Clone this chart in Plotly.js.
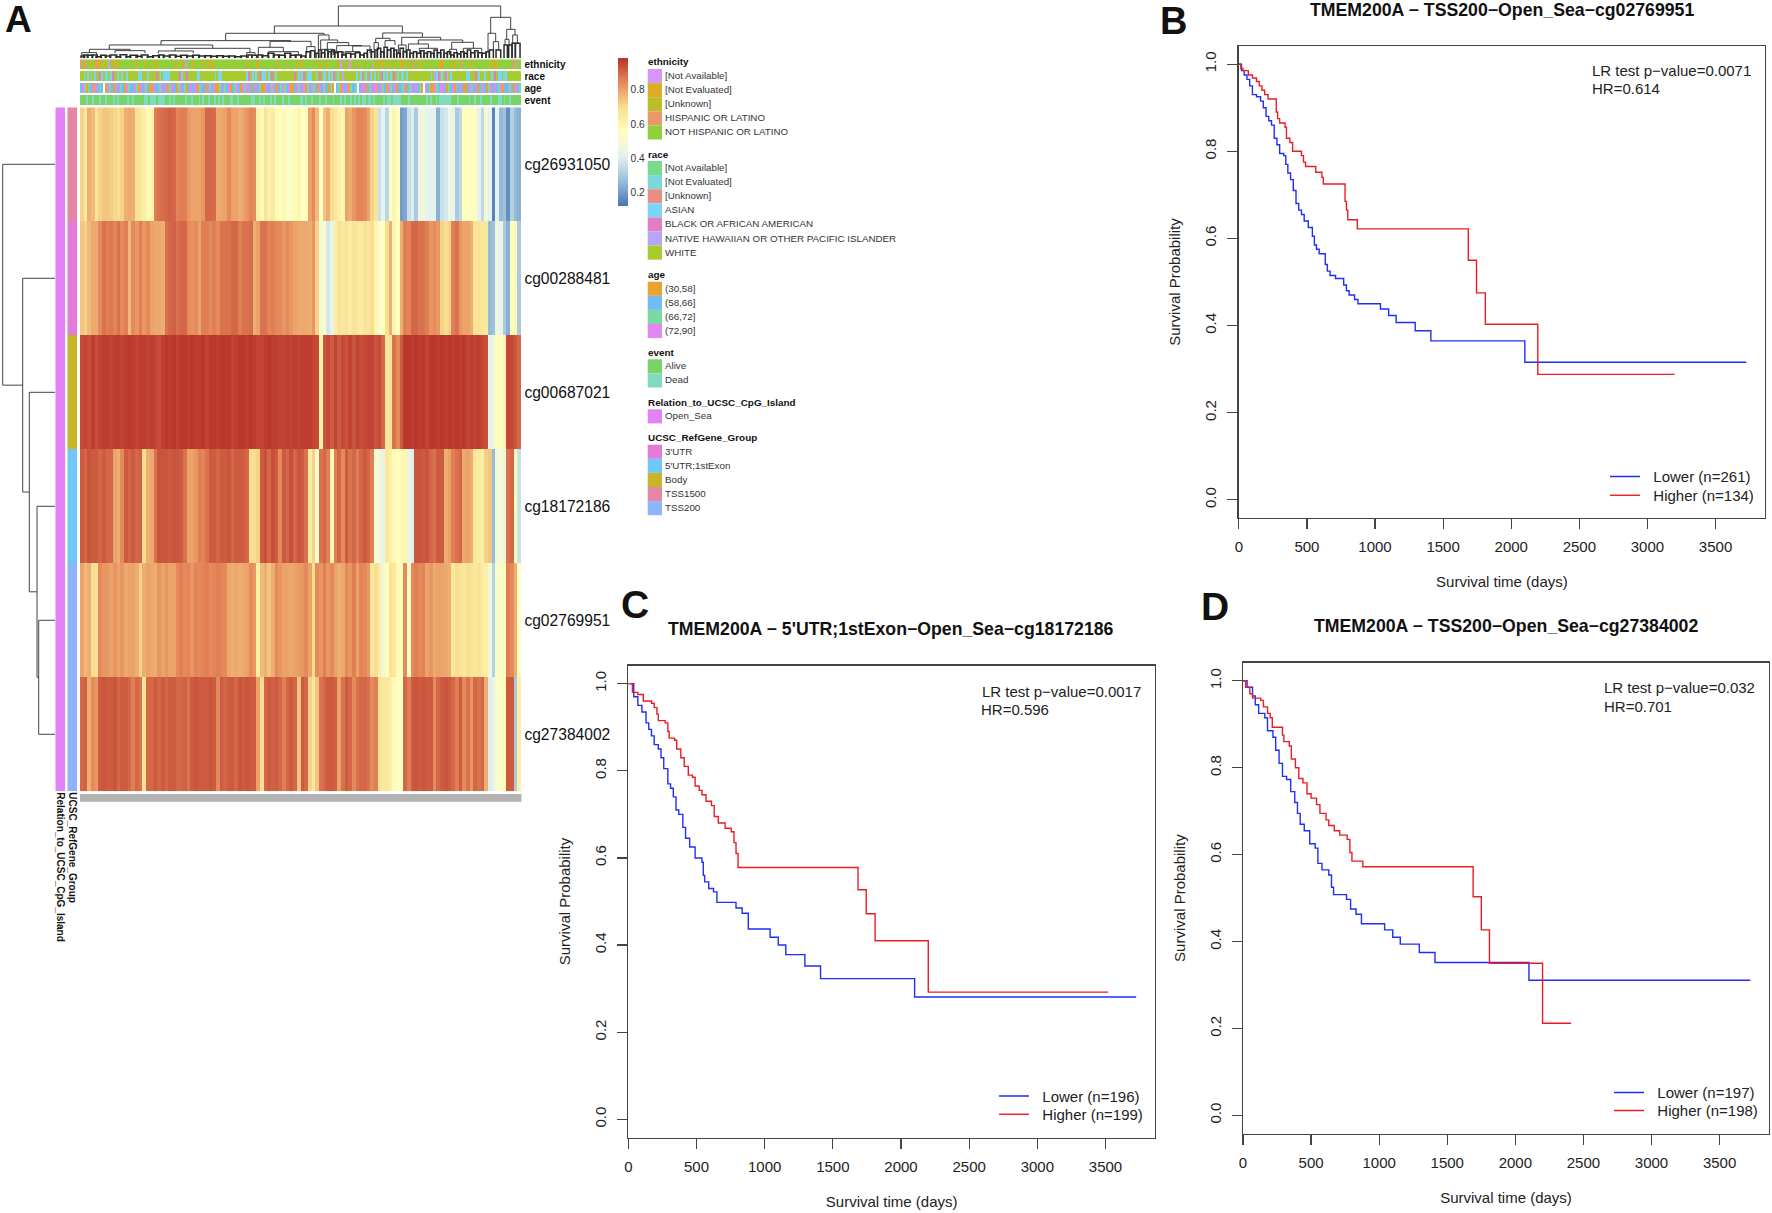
<!DOCTYPE html>
<html><head><meta charset="utf-8">
<script src="https://cdn.plot.ly/plotly-3.0.1.min.js"></script>
<style>html,body{margin:0;padding:0;background:#fff}</style></head>
<body><div id="chart" style="width:1772px;height:1213px"></div>
<script>
const rowNames=["cg26931050","cg00288481","cg00687021","cg18172186","cg02769951","cg27384002"];
// methylation beta x 100, one list per probe, read left to right across the heatmap
const cg26931050=[72,66,78,76,68,72,74,74,73,71,70,72,78,79,78,69,66,63,58,60,86,88,89,90,91,90,85,86,86,82,80,80,80,82,90,90,89,79,79,80,84,80,80,78,80,82,85,84,62,58,68,62,64,58,56,58,56,52,58,60,
55,56,80,84,76,54,74,78,70,66,62,60,80,78,82,85,85,84,80,72,68,36,42,33,52,60,56,20,22,36,40,30,46,48,42,41,42,24,36,38,46,44,30,34,56,56,54,56,42,34,48,42,15,42,26,28,17,32,26,24];
const cg00288481=[74,72,76,79,79,84,88,86,87,85,88,84,86,76,84,82,86,82,84,80,79,79,78,88,90,91,88,90,90,84,83,84,80,86,86,84,86,84,88,88,88,90,90,86,88,88,89,78,80,88,88,85,86,84,84,82,84,82,80,79,
79,79,78,82,72,50,52,38,44,62,68,66,68,64,68,66,64,68,66,70,60,52,56,70,78,60,56,78,86,85,90,90,88,88,86,82,84,82,72,70,72,86,88,82,80,80,78,68,68,66,66,26,28,46,44,30,24,56,58,30];
const cg00687021=[95,96,94,97,94,96,97,97,96,97,97,96,97,98,97,96,97,97,96,97,96,94,97,98,97,98,96,98,98,97,98,97,97,98,96,98,98,97,98,98,98,96,97,98,98,97,98,97,96,96,97,98,97,97,96,96,97,96,97,96,
97,97,97,96,95,62,93,95,92,96,92,95,93,96,93,96,94,95,96,96,93,95,90,66,68,88,84,92,98,98,97,98,97,98,96,98,98,97,98,97,98,97,98,97,98,96,97,96,97,95,94,42,48,56,56,60,95,95,93,90];
const cg18172186=[92,90,93,92,92,90,92,90,90,80,78,84,92,90,92,90,91,70,78,79,88,93,93,93,92,93,93,92,88,80,80,82,86,85,88,92,92,90,92,92,93,90,92,92,92,90,70,70,72,92,94,90,94,92,84,92,90,94,90,93,
92,88,64,72,50,88,90,86,60,86,90,84,92,88,90,86,90,92,90,86,50,48,44,66,62,58,56,58,60,44,40,93,93,92,93,90,88,92,92,78,80,86,88,90,79,80,78,66,64,62,72,74,26,48,50,46,88,90,56,36];
const cg02769951=[80,76,78,70,68,84,82,82,80,82,80,82,79,80,80,78,72,78,80,79,78,82,80,82,80,80,84,86,84,85,82,85,84,85,86,84,85,86,85,84,79,78,79,78,79,80,84,82,62,76,78,74,78,84,82,80,80,79,80,81,
82,84,80,70,84,82,86,82,84,80,78,79,84,82,86,80,85,84,82,66,70,64,48,56,68,66,58,56,84,54,84,86,84,85,80,82,79,80,80,79,78,66,70,68,66,70,68,66,68,64,62,48,32,52,56,54,86,84,78,54];
const cg27384002=[90,91,78,84,82,92,93,92,92,93,90,92,92,90,86,90,88,68,90,90,92,90,92,90,92,92,90,90,91,88,92,93,92,92,92,93,92,84,92,90,92,92,90,93,92,93,92,92,80,70,90,92,91,92,90,86,90,92,90,74,
92,90,72,66,74,88,90,92,92,91,80,88,92,90,84,88,90,90,88,84,86,68,66,66,62,58,54,56,90,86,92,93,92,93,92,92,84,90,92,93,92,90,86,92,84,88,82,90,88,90,78,40,44,52,54,56,92,92,30,62];

// sample annotation tracks, one letter per sample
const ethnicityTrack="HNEHNNENEHEENUENPNNEENENNNNNNNNNENNNNENNNNEENNNNNNNNNNENNNENPNNNENNNNENNEENENNNNNNNNNNNNENNNNNNENNNNEENNNNNNNNNNENNNNENNNNNENNENNNNNN"+
"ENNENNNENNNNNNEPNUNUPUNNENNNNENNNPNUENNENNENNNENNEENNENNHNENNENNNNENNNNUEENNNNENENNNHNNNNENNNNNNNNNNUNEEUNNNNNNNNHNPNN";
const raceTrack="WWAWAWVWAWWBAWVAWABWWAWVWWAWWWWWWAAWWWAWWWWBWAWAAVAWWWWWBAWWBWWWWWAAWWWWWWWWAWVAWWWWWWWWWWWWWWABWAWAWBWAAWAWBWAWWWWWWWWWWBWAWABWAAAWWAWBWA"+
"AWAWABWVWWIWWWWWWWAWABWAWBAWAWVWBAWAWAWBWAWVAWAWWWWWWWWWWWWWAWIABWAWBAWAWWWWWWWWAAWWWBWAWWAWWWAWBWAAWVAWWWWWWWW";
const ageTrack="SLGOGSLOLSGS.OLGSOLSLGSOLGSSLGOLSLGSOOLSSGLSLOGSLSOGLSGOSLSLLOGSSOLGSLOOGSLGSLOSGLSOLGLLSOSLSGOOLSLGLSOSGLGSLOOSLGSLLOGSLGSOLSGLSOG"+
"O.SGOLSLOGSSG.SLLOSGLLLOSLGSOLGSLOSSGLOSGLSLSGO.LSGOOLGSLLSOGSLOGSLSOOSLGSLOSGLSOGLSLSGLOSSLGSOLSG";
const eventTrack="AAADAADAAADAADAAADADAAAADAADAAAAADDADDDADDDDAADADAAAAADAADAAADADAADAADADADAAADDAADAAAAAADDAADADAAADADAAADAADAAAAADDADAADAAADAADA"+
"AADAAADADAADADADADDADDADAAAADADDADDDDAAAADAAAAAAAADADAADADDDDDDAAADAAAAADAADAADAAAADAAADDADAADAAAAA";
const relationRows=["Open_Sea","Open_Sea","Open_Sea","Open_Sea","Open_Sea","Open_Sea"];
const refGeneRows=["TSS1500","3'UTR","Body","5'UTR;1stExon","TSS200","TSS200"];

const ethnicityLevels=["[Not Available]","[Not Evaluated]","[Unknown]","HISPANIC OR LATINO","NOT HISPANIC OR LATINO"];
const ethnicityColors=["#D596F6","#DBAD24","#BBBE2B","#E89968","#8ED13A"];
const ethnicityCodes="PEUHN";
const raceLevels=["[Not Available]","[Not Evaluated]","[Unknown]","ASIAN","BLACK OR AFRICAN AMERICAN","NATIVE HAWAIIAN OR OTHER PACIFIC ISLANDER","WHITE"];
const raceColors=["#79D98C","#7CD9DB","#E88F84","#7AD5F9","#E17FC2","#B5A6F7","#A8CB2E"];
const raceCodes="TVKABIW";
const ageLevels=["(30,58]","(58,66]","(66,72]","(72,90]"];
const ageColors=["#EAA231","#6FBCF7","#7DD9A2","#E188F2"];
const ageCodes="OSGL";
const eventLevels=["Alive","Dead"];
const eventColors=["#78D466","#80DBC0"];
const eventCodes="AD";
const relationLevels=["Open_Sea"];
const relationColors=["#E382F5"];
const refGeneLevels=["3'UTR","5'UTR;1stExon","Body","TSS1500","TSS200"];
const refGeneColors=["#E37BD8","#71C8F8","#C9B528","#E486A6","#8FB4F9"];
const heatStops=["#4A74B0","#97BDDA","#E3F1F1","#FFFFBF","#F8DF90","#E58A5A","#B8332A"];
const colorbarTicks=[0.2,0.4,0.6,0.8];

// row dendrogram: leaf row joined at each merge, merge height (bottom-up; the other child is the previous merge)
const rowMergeLeaf=[4,3,2,1,0];
const rowMergeHeight=[16.3,18,25.7,32.3,52.3];

// sample dendrogram merges: left position, left child level, right position, right child level, merge level
const sampleMerges=[[775,78,1262,52,18],[583,100,967,99,78],[1232,100,1292,88,52],[1224,155,1247,125,100],[1280,118,1305,105,88],[1240,150,1256,150,125],[1275,135,1287,135,118],[1298,130,1312,130,105],
[437,122,732,105,100],[243,135,632,124,122],[88,148,398,145,135],[28,158,150,152,148],[285,153,510,158,145],[5,165,50,165,158],[105,160,195,160,152],[235,160,340,160,153],[500,168,525,168,158],
[570,142,693,140,124],[535,165,610,155,142],[565,165,655,165,155],[680,160,705,160,140],[715,165,747,120,105],[722,150,773,128,120],[742,148,806,137,128],[725,165,760,165,148],[770,155,845,138,137],[755,165,790,165,155],[818,155,870,160,138],[795,165,840,165,155],
[908,115,1027,112,99],[887,128,930,122,115],[882,150,895,150,128],[915,140,945,135,122],[965,135,1082,120,112],[955,160,978,160,135],[1015,132,1148,127,120],[985,150,1045,145,132],[1018,160,1072,155,145],[1115,148,1180,145,127],[1108,165,1130,160,148],[1150,160,1205,155,145]];
const sampleLeafMerges=[[1228,175,1240,175,150],[1248,175,1262,175,150],[1272,175,1282,175,135],[1286,175,1296,175,135],[1296,175,1306,175,130],[1306,175,1320,175,130],
[3,175,14,175,168],[10,175,24,175,165],[22,175,38,175,166],[36,175,52,175,165],[48,175,64,175,170],[62,175,78,175,166],[76,175,92,175,168],[90,175,110,175,165],[108,175,122,175,170],[120,175,140,175,164],[138,175,152,175,170],[150,175,172,175,166],[168,175,186,175,169],[184,175,204,175,165],[202,175,220,175,170],[218,175,238,175,167],[236,175,252,175,165],[250,175,270,175,168],[268,175,288,175,165],[286,175,304,175,169],[302,175,322,175,166],[320,175,340,175,168],[338,175,358,175,166],[356,175,376,175,168],[374,175,394,175,167],[392,175,412,175,169],[410,175,430,175,167],[428,175,448,175,169],[446,175,466,175,168],[464,175,484,175,170],[482,175,500,175,168],[504,175,516,175,165],[516,175,530,175,166],[534,175,548,175,165],[546,175,566,175,167],[564,175,582,175,160],[580,175,598,175,165],[596,175,616,175,166],[614,175,632,175,160],[630,175,648,175,166],[646,175,664,175,165],[662,175,676,175,168],[678,175,690,175,155],[692,175,704,175,152],
[708,175,716,175,160],[716,175,724,175,150],[724,175,734,175,158],[734,175,744,175,150],[744,175,754,175,155],[754,175,764,175,150],[764,175,774,175,158],[774,175,786,175,155],[786,175,798,175,165],[798,175,812,175,160],[812,175,826,175,162],[826,175,840,175,158],[840,175,852,175,165],[852,175,862,175,160],[862,175,874,175,150],[874,175,884,175,155],
[884,175,892,175,150],[892,175,902,175,145],[902,175,912,175,155],[912,175,922,175,142],[922,175,932,175,150],[932,175,942,175,145],[942,175,950,175,150],[950,175,960,175,160],[960,175,970,175,145],[970,175,980,175,155],[980,175,990,175,150],[990,175,1000,175,160],[1000,175,1010,175,155],[1010,175,1022,175,160],[1022,175,1032,175,152],[1032,175,1042,175,160],[1042,175,1052,175,155],[1052,175,1062,175,160],[1062,175,1072,175,150],[1072,175,1082,175,158],[1082,175,1092,175,150],[1092,175,1102,175,160],[1102,175,1112,175,155],[1112,175,1122,175,165],[1122,175,1132,175,158],[1132,175,1142,175,162],[1142,175,1152,175,155],[1152,175,1162,175,160],[1162,175,1172,175,150],[1172,175,1184,175,158],[1184,175,1194,175,152],[1194,175,1206,175,158],[1206,175,1218,175,160],[1218,175,1228,175,155]];

// survival curves: days and probability at each step
const bLowerDays=[0,20,40,60,80,100,130,160,180,200,220,240,260,280,300,330,345,360,380,400,420,440,460,480,510,540,555,570,590,635,650,670,710,770,790,810,850,875,1040,1100,1155,1295,1410,2100,3725];
const bLowerSurv=[1,.985,.975,.965,.95,.93,.925,.915,.9,.88,.87,.86,.83,.815,.795,.79,.77,.75,.735,.71,.68,.665,.655,.64,.625,.605,.585,.575,.565,.54,.525,.515,.508,.493,.48,.47,.46,.45,.438,.423,.407,.388,.365,.316,.316];
const bHigherDays=[0,15,30,70,100,130,150,170,190,215,275,285,300,340,350,375,395,460,475,490,565,610,620,780,790,800,870,1685,1745,1810,2195,3200];
const bHigherSurv=[1,.99,.985,.975,.968,.96,.95,.94,.93,.92,.89,.875,.865,.855,.83,.82,.80,.79,.775,.765,.752,.74,.725,.685,.665,.643,.622,.55,.475,.403,.288,.288];
const cLowerDays=[0,40,70,100,130,150,170,190,220,240,260,290,310,330,350,370,400,420,450,490,540,550,560,590,625,650,790,835,880,1040,1100,1155,1295,1410,2100,3725];
const cLowerSurv=[1,.97,.95,.935,.91,.895,.88,.86,.85,.83,.805,.77,.76,.74,.71,.70,.67,.645,.625,.6,.59,.56,.545,.53,.522,.498,.485,.473,.437,.418,.4,.378,.352,.323,.281,.281];
const cHigherDays=[0,30,70,110,170,190,210,220,270,290,300,340,355,385,410,440,470,490,520,540,570,610,630,660,710,755,775,790,805,1685,1745,1810,2200,3520];
const cHigherSurv=[1,.98,.975,.96,.955,.945,.93,.915,.91,.89,.875,.87,.85,.83,.81,.79,.785,.765,.755,.745,.73,.72,.695,.68,.668,.66,.635,.61,.578,.527,.472,.41,.292,.292];
const dLowerDays=[0,30,70,90,115,160,180,220,240,265,290,320,350,380,400,420,450,490,530,550,580,630,650,665,760,790,830,870,1040,1100,1155,1295,1410,2100,3725];
const dLowerSurv=[1,.985,.965,.945,.925,.915,.885,.87,.84,.81,.78,.773,.745,.72,.695,.67,.655,.625,.615,.58,.565,.553,.525,.508,.497,.475,.463,.441,.427,.41,.394,.375,.352,.311,.311];
const dHigherDays=[0,20,50,70,130,150,180,200,215,290,300,340,355,385,410,440,470,500,540,565,610,630,670,710,765,785,800,880,1690,1750,1810,2200,2410];
const dHigherSurv=[1,.985,.97,.96,.955,.94,.925,.915,.893,.875,.86,.85,.82,.80,.775,.765,.74,.73,.715,.695,.68,.667,.655,.645,.635,.605,.585,.572,.503,.427,.35,.212,.212];

const W=1772,H=1213,FONT='"Liberation Sans", Arial, sans-serif';
const traces=[],shapes=[],annotations=[];
const layout={width:W,height:H,margin:{l:0,r:0,t:0,b:0},paper_bgcolor:'#fff',plot_bgcolor:'#fff',font:{family:FONT,color:'#222'},showlegend:true,shapes,annotations};
let nAx=0;
function pair(x0,x1,y0,y1,xo,yo){
  nAx++;const id=nAx===1?'':nAx;
  layout['xaxis'+id]=Object.assign({domain:[x0/W,x1/W],anchor:'y'+id,showgrid:false,zeroline:false},xo);
  layout['yaxis'+id]=Object.assign({domain:[1-y1/H,1-y0/H],anchor:'x'+id,showgrid:false,zeroline:false},yo);
  return {xaxis:'x'+id,yaxis:'y'+id};
}
function ann(text,x,y,size,opt){
  annotations.push(Object.assign({text,xref:'paper',yref:'paper',x:x/W,y:1-y/H,xanchor:'left',yanchor:'middle',showarrow:false,font:{family:FONT,size,color:'#111'}},opt||{}));
}
function stepScale(colors){
  const n=colors.length,s=[];
  colors.forEach((c,i)=>{s.push([i/n,c]);s.push([(i+1)/n,c]);});
  return s;
}

// ---- heatmap
const HX0=80,HX1=521.4,HY0=107.3,HY1=791.3;
const heatRows=[cg26931050,cg00288481,cg00687021,cg18172186,cg02769951,cg27384002];
const heatAxes=pair(HX0,HX1,HY0,HY1,{visible:false,range:[-0.5,heatRows[0].length-0.5]},
  {type:'category',categoryorder:'array',categoryarray:rowNames,range:[5.5,-0.5],side:'right',ticks:'',showline:false,ticklabelstandoff:2,tickfont:{size:15.6,color:'#111',family:FONT}});
traces.push(Object.assign({type:'heatmap',y:rowNames,z:heatRows.map(r=>r.map(v=>v/100)),zmin:0.12,zmax:0.987,
  colorscale:heatStops.map((c,i)=>[i/(heatStops.length-1),c]),hoverinfo:'skip',
  colorbar:{x:617.7/W,xanchor:'left',y:1-58/H,yanchor:'top',lenmode:'pixels',len:148,thicknessmode:'pixels',thickness:10.3,xpad:0,ypad:0,outlinewidth:0,tickmode:'array',tickvals:colorbarTicks,ticktext:colorbarTicks.map(v=>v.toFixed(1)),ticks:'',tickfont:{size:10.2,color:'#333',family:FONT}}},heatAxes));

// ---- top annotation tracks
function track(name,str,codes,colors,y0,y1){
  const ax=pair(HX0,HX1,y0,y1,{visible:false,range:[-0.5,str.length-0.5]},
    {type:'category',side:'right',ticks:'',showline:false,ticklabelstandoff:2,tickfont:{size:10,color:'#111',family:FONT,weight:700}});
  traces.push(Object.assign({type:'heatmap',y:[name],z:[str.split('').map(c=>{const i=codes.indexOf(c);return i<0?null:i;})],
    zmin:-0.5,zmax:colors.length-0.5,colorscale:stepScale(colors),showscale:false,hoverinfo:'skip'},ax));
}
track('ethnicity',ethnicityTrack,ethnicityCodes,ethnicityColors,59.3,69);
track('race',raceTrack,raceCodes,raceColors,71,81);
track('age',ageTrack,ageCodes,ageColors,83,93);
track('event',eventTrack,eventCodes,eventColors,95,105);

// ---- left annotation tracks
function sideTrack(name,rows,levels,colors,x0,x1){
  const ax=pair(x0,x1,HY0,HY1,{type:'category',ticks:'',showline:false,tickangle:90,tickfont:{size:10,color:'#111',family:FONT,weight:700}},
    {visible:false,range:[5.5,-0.5]});
  traces.push(Object.assign({type:'heatmap',x:[name],y:[0,1,2,3,4,5],z:rows.map(r=>[levels.indexOf(r)]),
    zmin:-0.5,zmax:colors.length-0.5,colorscale:stepScale(colors),showscale:false,hoverinfo:'skip'},ax));
}
sideTrack('Relation_to_UCSC_CpG_Island',relationRows,relationLevels,relationColors,55.3,65.3);
sideTrack('UCSC_RefGene_Group',refGeneRows,refGeneLevels,refGeneColors,67.3,77.3);

// ---- unreadable per-sample labels below the heatmap form a grey band
shapes.push({type:'rect',xref:'paper',yref:'paper',x0:HX0/W,x1:HX1/W,y0:1-801.7/H,y1:1-794/H,fillcolor:'#b2b2b2',line:{width:0}});

// ---- dendrograms
const rowAxes=pair(0,55,HY0,HY1,{visible:false,range:[55,0]},{visible:false,range:[5.5,-0.5]});
(function(){
  const xs=[],ys=[];
  let prevPos=5,prevH=0;
  rowMergeLeaf.forEach((leaf,i)=>{
    const h=rowMergeHeight[i];
    xs.push(0,h,h,prevH,null);ys.push(leaf,leaf,prevPos,prevPos,null);
    prevPos=(leaf+prevPos)/2;prevH=h;
  });
  traces.push(Object.assign({type:'scatter',mode:'lines',x:xs,y:ys,line:{color:'#444',width:1},showlegend:false,hoverinfo:'skip'},rowAxes));
})();
const colAxes=pair(80,521.7,0,58.3,{visible:false,range:[0,1325]},{visible:false,range:[175,0]});
function mergeTrace(list,width){
  const xs=[],ys=[];
  list.forEach(m=>{xs.push(m[0],m[0],m[2],m[2],null);ys.push(m[1],m[4],m[4],m[3],null);});
  traces.push(Object.assign({type:'scatter',mode:'lines',x:xs,y:ys,line:{color:'#2b2b2b',width},showlegend:false,hoverinfo:'skip'},colAxes));
}
mergeTrace(sampleMerges,0.9);
mergeTrace(sampleLeafMerges,1.5);

// ---- legend for the heatmap
function legendGroup(title,levels,colors,titleY,startY){
  ann('<b>'+title+'</b>',646,titleY,9.9);
  levels.forEach((t,i)=>{
    const a=startY+i*14.1,b=a+14.1;
    shapes.push({type:'rect',xref:'paper',yref:'paper',x0:647.7/W,x1:662/W,y0:1-b/H,y1:1-a/H,fillcolor:colors[i],line:{width:0}});
    ann(t,662.8,(a+b)/2-0.5,9.78,{font:{family:FONT,size:9.78,color:'#333'}});
  });
}
legendGroup('ethnicity',ethnicityLevels,ethnicityColors,61.7,69);
legendGroup('race',raceLevels,raceColors,154.3,161);
legendGroup('age',ageLevels,ageColors,274.7,281.7);
legendGroup('event',eventLevels,eventColors,352.7,359.3);
legendGroup('Relation_to_UCSC_CpG_Island',relationLevels,relationColors,402,409.3);
legendGroup('UCSC_RefGene_Group',refGeneLevels,refGeneColors,437.3,444.7);

// ---- survival panels
const AX='#444',TXT='#222';
let nLegend=0;
function addLegend(legX,legY){
  nLegend++;const id=nLegend===1?'legend':'legend'+nLegend;
  layout[id]={x:legX/W,y:1-legY/H,xanchor:'left',yanchor:'top',bgcolor:'rgba(0,0,0,0)',borderwidth:0,font:{size:15,color:TXT,family:FONT},itemwidth:30,itemclick:false,itemdoubleclick:false};
  return id;
}
function panel(o){
  const ax=pair(o.x0,o.x1,o.y0,o.y1,
    {range:[0,3863],tickmode:'array',tickvals:[0,500,1000,1500,2000,2500,3000,3500],ticks:'outside',ticklen:10,tickwidth:1.2,tickcolor:AX,showline:true,linecolor:AX,linewidth:1.4,mirror:true,
     tickfont:{size:15,color:TXT,family:FONT},ticklabelstandoff:5,title:{text:'Survival time (days)',font:{size:15,color:TXT,family:FONT},standoff:22}},
    {range:[-0.0416,1.0416],tickmode:'array',tickvals:[0,0.2,0.4,0.6,0.8,1],ticktext:['0.0','0.2','0.4','0.6','0.8','1.0'],ticks:'outside',ticklen:10,tickwidth:1.2,tickcolor:AX,showline:true,linecolor:AX,linewidth:1.4,mirror:true,tickangle:-90,
     tickfont:{size:15,color:TXT,family:FONT},ticklabelstandoff:5,title:{text:'Survival Probability',font:{size:15,color:TXT,family:FONT},standoff:17.5}});
  traces.push(Object.assign({type:'scatter',mode:'lines',x:o.lowX,y:o.lowY,name:'\u00A0\u00A0'+o.lowName,legend:addLegend(o.legX,o.lowY0-16.8),line:{color:'#1f2ff5',width:1.4,shape:'hv'},hoverinfo:'skip'},ax));
  traces.push(Object.assign({type:'scatter',mode:'lines',x:o.highX,y:o.highY,name:'\u00A0\u00A0'+o.highName,legend:addLegend(o.legX,o.highY0-16.8),line:{color:'#ea1c24',width:1.4,shape:'hv'},hoverinfo:'skip'},ax));
  ann('<b>'+o.title+'</b>',o.titleX,o.titleY,17.7,{xanchor:'center'});
  ann(o.p,o.textX,o.pY,15,{font:{family:FONT,size:15,color:TXT}});
  ann(o.hr,o.textX,o.hrY,15,{font:{family:FONT,size:15,color:TXT}});
}
panel({x0:1238.8,x1:1765,y0:46,y1:518,lowX:bLowerDays,lowY:bLowerSurv,highX:bHigherDays,highY:bHigherSurv,lowName:'Lower (n=261)',highName:'Higher (n=134)',legX:1605,lowY0:477,highY0:495.8,
  title:"TMEM200A \u2212 TSS200\u2212Open_Sea\u2212cg02769951",titleX:1502,titleY:9.6,p:'LR test p\u2212value=0.0071',hr:'HR=0.614',textX:1589.5,pY:70.3,hrY:88.3});
panel({x0:628.3,x1:1155,y0:665.5,y1:1137.5,lowX:cLowerDays,lowY:cLowerSurv,highX:cHigherDays,highY:cHigherSurv,lowName:'Lower (n=196)',highName:'Higher (n=199)',legX:994,lowY0:1096.5,highY0:1114.8,
  title:"TMEM200A \u2212 5'UTR;1stExon\u2212Open_Sea\u2212cg18172186",titleX:891,titleY:629,p:'LR test p\u2212value=0.0017',hr:'HR=0.596',textX:979.5,pY:691.3,hrY:709.6});
panel({x0:1243,x1:1769,y0:662.7,y1:1133.5,lowX:dLowerDays,lowY:dLowerSurv,highX:dHigherDays,highY:dHigherSurv,lowName:'Lower (n=197)',highName:'Higher (n=198)',legX:1609,lowY0:1093,highY0:1111,
  title:"TMEM200A \u2212 TSS200\u2212Open_Sea\u2212cg27384002",titleX:1506,titleY:625.8,p:'LR test p\u2212value=0.032',hr:'HR=0.701',textX:1602,pY:687.7,hrY:706});

// ---- panel letters
ann('<b>A</b>',3,19.5,37);
ann('<b>B</b>',1158,20.5,38);
ann('<b>C</b>',619,605,39);
ann('<b>D</b>',1199,606,39);

Plotly.newPlot('chart',traces,layout,{staticPlot:true,displayModeBar:false});
</script></body></html>
